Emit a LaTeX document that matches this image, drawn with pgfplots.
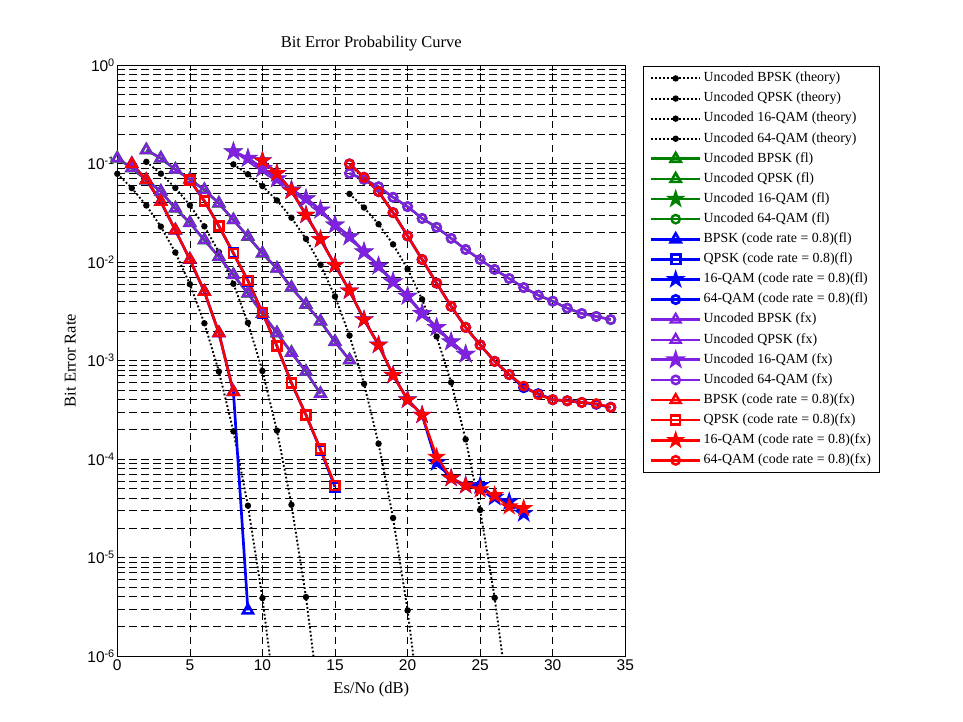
\documentclass[border=0pt]{standalone}
\usepackage{fontspec}
\setmainfont{Liberation Serif}
\newfontfamily\sansf{Liberation Sans}
\usepackage{pgfplots}
\pgfplotsset{compat=1.18}
\definecolor{mpurple}{RGB}{128,32,224}
\definecolor{mgreen}{RGB}{0,128,0}
\pgfdeclareplotmark{pent}{%
 \pgfpathmoveto{\pgfpointpolar{90}{\pgfplotmarksize}}%
 \pgfpathlineto{\pgfpointpolar{126}{0.382\pgfplotmarksize}}%
 \pgfpathlineto{\pgfpointpolar{162}{\pgfplotmarksize}}%
 \pgfpathlineto{\pgfpointpolar{198}{0.382\pgfplotmarksize}}%
 \pgfpathlineto{\pgfpointpolar{234}{\pgfplotmarksize}}%
 \pgfpathlineto{\pgfpointpolar{270}{0.382\pgfplotmarksize}}%
 \pgfpathlineto{\pgfpointpolar{306}{\pgfplotmarksize}}%
 \pgfpathlineto{\pgfpointpolar{342}{0.382\pgfplotmarksize}}%
 \pgfpathlineto{\pgfpointpolar{18}{\pgfplotmarksize}}%
 \pgfpathlineto{\pgfpointpolar{54}{0.382\pgfplotmarksize}}%
 \pgfpathclose
 \pgfusepathqfillstroke}
\pgfplotsset{
 theory/.style={black, line width=1.9bp, dash pattern=on 1.8bp off 2.2bp, mark=*, mark size=2.2bp, mark options={solid}},
 tri/.style={mark=triangle, mark size=5.8bp, mark options={solid}},
 sq/.style={mark=square, mark size=4.5bp, mark options={solid}},
 st/.style={mark=pent, mark size=6bp, mark options={solid, fill=#1}},
 ci/.style={mark=o, mark size=4.2bp, mark options={solid}},
}
\begin{document}
\begin{tikzpicture}
\useasboundingbox (-117.3bp,-66bp) rectangle (845.7bp,656bp);
\begin{axis}[
 at={(0,0)}, anchor=south west,
 scale only axis, width=508bp, height=591bp,
 ymode=log, xmin=0, xmax=35, ymin=1e-6, ymax=1,
 axis line style={line width=0.8bp},
 xtick={0,5,10,15,20,25,30,35},
 xticklabels={0,5,10,15,20,25,30,35},
 ytick={1e-6,1e-5,1e-4,1e-3,1e-2,1e-1,1},
 yticklabels={10\textsuperscript{-6},10\textsuperscript{-5},10\textsuperscript{-4},10\textsuperscript{-3},10\textsuperscript{-2},10\textsuperscript{-1},10\textsuperscript{0}},
 minor ytick={2e-6,3e-6,4e-6,5e-6,6e-6,7e-6,8e-6,9e-6,2e-5,3e-5,4e-5,5e-5,6e-5,7e-5,8e-5,9e-5,2e-4,3e-4,4e-4,5e-4,6e-4,7e-4,8e-4,9e-4,2e-3,3e-3,4e-3,5e-3,6e-3,7e-3,8e-3,9e-3,0.02,0.03,0.04,0.05,0.06,0.07,0.08,0.09,0.2,0.3,0.4,0.5,0.6,0.7,0.8,0.9},
 tick label style={font=\sansf\fontsize{15.5bp}{17bp}\selectfont},
 yticklabel style={xshift=1bp},
 tick align=inside, major tick length=6bp, minor tick length=3bp,
 tick style={black, line width=0.6bp},
 grid=both,
 major grid style={black, line width=0.6bp, dash pattern=on 7.5bp off 4.5bp},
 minor grid style={black, line width=0.6bp, dash pattern=on 7.5bp off 4.5bp},
 title={Bit Error Probability Curve},
 title style={font=\fontsize{16.5bp}{18bp}\selectfont, at={(axis description cs:0.5,1.027)}, anchor=center},
 xlabel={Es/No (dB)},
 xlabel style={font=\fontsize{16.5bp}{18bp}\selectfont, at={(axis description cs:0.5,-0.0575)}, anchor=center},
 ylabel={Bit Error Rate},
 ylabel style={font=\fontsize{16.5bp}{18bp}\selectfont, at={(axis description cs:-0.0925,0.5)}, anchor=center},
 legend image code/.code={\draw[mark repeat=2,mark phase=2,#1] plot coordinates {(0bp,0bp)(24.5bp,0bp)(49bp,0bp)};},
 legend cell align=left,
 legend style={at={(1.0354,0.9983)}, anchor=north west, draw=black, line width=0.8bp, fill=white,
   font=\fontsize{13.9bp}{15bp}\selectfont, row sep=0bp, inner xsep=6bp,
   nodes={text height=10bp, text depth=3.5bp, inner ysep=3.3bp}},
]
% theory
\addplot[theory] coordinates {(0,0.07865)(1,0.05628)(2,0.03751)(3,0.02288)(4,0.01250)(5,0.005954)(6,0.002388)(7,7.727e-4)(8,1.909e-4)(9,3.36e-5)(10,3.872e-6)(11,2.61e-7)};
\addlegendentry{Uncoded BPSK (theory)}
\addplot[theory] coordinates {(2,0.1040)(3,0.0789)(4,0.0565)(5,0.03768)(6,0.02300)(7,0.01259)(8,0.00600)(9,0.002413)(10,7.83e-4)(11,1.94e-4)(12,3.43e-5)(13,3.97e-6)(14,2.69e-7)};
\addlegendentry{Uncoded QPSK (theory)}
\addplot[theory] coordinates {(8,0.0980)(9,0.0778)(10,0.0590)(11,0.0422)(12,0.02813)(13,0.01716)(14,0.009375)(15,0.004466)(16,0.001791)(17,5.80e-4)(18,1.43e-4)(19,2.52e-5)(20,2.90e-6)(21,1.96e-7)};
\addlegendentry{Uncoded 16-QAM (theory)}
\addplot[theory] coordinates {(16,0.04916)(17,0.03569)(18,0.02421)(19,0.01511)(20,0.008488)(21,0.004185)(22,0.001753)(23,5.99e-4)(24,1.584e-4)(25,3.04e-5)(26,3.90e-6)(27,3.01e-7)};
\addlegendentry{Uncoded 64-QAM (theory)}
% uncoded floating point (green)
\addplot[mgreen, line width=2.7bp, tri] coordinates {(0,0.113)(1,0.09)(2,0.068)(3,0.052)(4,0.035)(5,0.025)(6,0.0167)(7,0.0113)(8,0.0074)(9,0.0048)(10,0.0030)(11,0.0019)(12,0.0012)(13,7.7e-4)(14,4.6e-4)};
\addlegendentry{Uncoded BPSK (fl)}
\addplot[mgreen, line width=2.7bp, tri] coordinates {(2,0.137)(3,0.113)(4,0.087)(5,0.069)(6,0.054)(7,0.0394)(8,0.0267)(9,0.0181)(10,0.01225)(11,0.0086)(12,0.0055)(13,0.0037)(14,0.0025)(15,0.00155)(16,0.00101)};
\addlegendentry{Uncoded QPSK (fl)}
\addplot[mgreen, line width=2.7bp, st=mgreen] coordinates {(8,0.132)(9,0.113)(10,0.089)(11,0.070)(12,0.054)(13,0.044)(14,0.0337)(15,0.0238)(16,0.0181)(17,0.0127)(18,0.0091)(19,0.0063)(20,0.0045)(21,0.0030)(22,0.00217)(23,0.00155)(24,0.00116)};
\addlegendentry{Uncoded 16-QAM (fl)}
\addplot[mgreen, line width=2.4bp, ci] coordinates {(16,0.0795)(17,0.069)(18,0.058)(19,0.0454)(20,0.0365)(21,0.0277)(22,0.0225)(23,0.0174)(24,0.0134)(25,0.0106)(26,0.0084)(27,0.0068)(28,0.0055)(29,0.0046)(30,0.0040)(31,0.0034)(32,0.0030)(33,0.0028)(34,0.0026)};
\addlegendentry{Uncoded 64-QAM (fl)}
% coded floating point (blue)
\addplot[blue, line width=2.7bp, tri] coordinates {(1,0.099)(2,0.068)(3,0.041)(4,0.021)(5,0.0106)(6,0.0050)(7,0.0019)(8,4.8e-4)(9,2.9e-6)};
\addlegendentry{BPSK (code rate = 0.8)(fl)}
\addplot[blue, line width=2.7bp, sq] coordinates {(5,0.068)(6,0.0416)(7,0.0232)(8,0.01225)(9,0.00646)(10,0.00306)(11,0.0014)(12,5.9e-4)(13,2.8e-4)(14,1.24e-4)(15,5.2e-5)};
\addlegendentry{QPSK (code rate = 0.8)(fl)}
\addplot[blue, line width=2.7bp, st=blue] coordinates {(10,0.107)(11,0.0795)(12,0.053)(13,0.030)(14,0.017)(15,0.0093)(16,0.0051)(17,0.0026)(18,0.00144)(19,7.1e-4)(20,4.0e-4)(21,2.8e-4)(22,9.2e-5)(23,6.4e-5)(24,5.4e-5)(25,5.4e-5)(26,4.1e-5)(27,3.7e-5)(28,2.8e-5)};
\addlegendentry{16-QAM (code rate = 0.8)(fl)}
\addplot[blue, line width=2.7bp, ci] coordinates {(16,0.099)(17,0.0724)(18,0.0518)(19,0.0317)(20,0.0184)(21,0.0106)(22,0.0061)(23,0.00355)(24,0.00217)(25,0.00144)(26,9.8e-4)(27,7.2e-4)(28,5.3e-4)(29,4.6e-4)(30,4.0e-4)(31,3.9e-4)(32,3.75e-4)(33,3.6e-4)(34,3.35e-4)};
\addlegendentry{64-QAM (code rate = 0.8)(fl)}
% uncoded fixed point (purple)
\addplot[mpurple, line width=2.3bp, tri] coordinates {(0,0.113)(1,0.09)(2,0.068)(3,0.052)(4,0.035)(5,0.025)(6,0.0167)(7,0.0113)(8,0.0074)(9,0.0048)(10,0.0030)(11,0.0019)(12,0.0012)(13,7.7e-4)(14,4.6e-4)};
\addlegendentry{Uncoded BPSK (fx)}
\addplot[mpurple, line width=2.3bp, tri] coordinates {(2,0.137)(3,0.113)(4,0.087)(5,0.069)(6,0.054)(7,0.0394)(8,0.0267)(9,0.0181)(10,0.01225)(11,0.0086)(12,0.0055)(13,0.0037)(14,0.0025)(15,0.00155)(16,0.00101)};
\addlegendentry{Uncoded QPSK (fx)}
\addplot[mpurple, line width=3bp, st=mpurple] coordinates {(8,0.132)(9,0.113)(10,0.089)(11,0.070)(12,0.054)(13,0.044)(14,0.0337)(15,0.0238)(16,0.0181)(17,0.0127)(18,0.0091)(19,0.0063)(20,0.0045)(21,0.0030)(22,0.00217)(23,0.00155)(24,0.00116)};
\addlegendentry{Uncoded 16-QAM (fx)}
\addplot[mpurple, line width=2.5bp, ci] coordinates {(16,0.0795)(17,0.069)(18,0.058)(19,0.0454)(20,0.0365)(21,0.0277)(22,0.0225)(23,0.0174)(24,0.0134)(25,0.0106)(26,0.0084)(27,0.0068)(28,0.0055)(29,0.0046)(30,0.0040)(31,0.0034)(32,0.0030)(33,0.0028)(34,0.0026)};
\addlegendentry{Uncoded 64-QAM (fx)}
% coded fixed point (red)
\addplot[red, line width=2.5bp, tri] coordinates {(1,0.099)(2,0.068)(3,0.041)(4,0.021)(5,0.0106)(6,0.0050)(7,0.0019)(8,4.8e-4)};
\addlegendentry{BPSK (code rate = 0.8)(fx)}
\addplot[red, line width=2.5bp, sq] coordinates {(5,0.068)(6,0.0416)(7,0.0232)(8,0.01225)(9,0.00646)(10,0.00306)(11,0.0014)(12,5.9e-4)(13,2.8e-4)(14,1.26e-4)(15,5.4e-5)};
\addlegendentry{QPSK (code rate = 0.8)(fx)}
\addplot[red, line width=2.5bp, st=red] coordinates {(10,0.107)(11,0.0795)(12,0.053)(13,0.030)(14,0.017)(15,0.0093)(16,0.0051)(17,0.0026)(18,0.00144)(19,7.1e-4)(20,4.0e-4)(21,2.8e-4)(22,1.05e-4)(23,6.4e-5)(24,5.4e-5)(25,4.9e-5)(26,4.3e-5)(27,3.3e-5)(28,3.16e-5)};
\addlegendentry{16-QAM (code rate = 0.8)(fx)}
\addplot[red, line width=2.5bp, ci] coordinates {(16,0.099)(17,0.0724)(18,0.0518)(19,0.0317)(20,0.0184)(21,0.0106)(22,0.0061)(23,0.00355)(24,0.00217)(25,0.00144)(26,9.8e-4)(27,7.2e-4)(28,5.5e-4)(29,4.5e-4)(30,4.0e-4)(31,3.9e-4)(32,3.75e-4)(33,3.65e-4)(34,3.35e-4)};
\addlegendentry{64-QAM (code rate = 0.8)(fx)}
\end{axis}
\end{tikzpicture}
\end{document}
